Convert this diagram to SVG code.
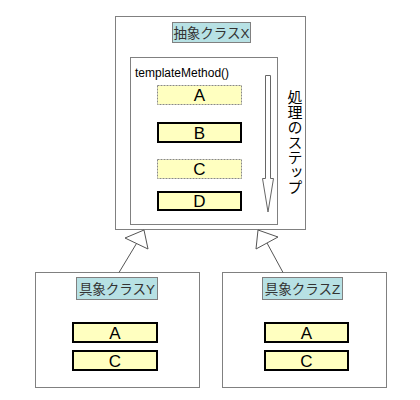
<svg xmlns="http://www.w3.org/2000/svg" width="420" height="400" viewBox="0 0 420 400">
<style>
.frame{fill:#fff;stroke:#808080;stroke-width:1}
.title{fill:#b7e1e4;stroke:#808080;stroke-width:1}
.tt{font-family:"Liberation Sans","Noto Sans CJK JP",sans-serif;font-size:13.5px;fill:#333;text-anchor:middle}
.step{fill:#ffffc0;stroke:#000;stroke-width:2}
.hook{fill:#ffffc0;stroke:#888;stroke-width:1;stroke-dasharray:2,1}
.lt{font-family:"Liberation Sans",Arial,sans-serif;font-size:17px;fill:#000;text-anchor:middle}
.conn{fill:#fff;stroke:#555;stroke-width:1}
</style>
<rect width="420" height="400" fill="#fff"/>
<g id="classX">
<rect class="frame" x="115.5" y="16.5" width="190" height="213"/>
<rect class="title" x="172.5" y="22.5" width="78" height="20"/>
<text class="tt" x="211.5" y="37.5">抽象クラスX</text>
<rect class="frame" x="130.5" y="57.5" width="147" height="167"/>
<text x="135" y="77" font-family="Liberation Sans,Arial,sans-serif" font-size="12" fill="#000">templateMethod()</text>
<g id="stepA"><rect class="hook" x="157.5" y="85.5" width="84" height="19"/><text class="lt" x="199.5" y="101">A</text></g>
<g id="stepB"><rect class="step" x="158" y="123" width="83" height="19"/><text class="lt" x="199.5" y="139">B</text></g>
<g id="stepC"><rect class="hook" x="157.5" y="159.5" width="84" height="19"/><text class="lt" x="199.5" y="175">C</text></g>
<g id="stepD"><rect class="step" x="158" y="192" width="83" height="18"/><text class="lt" x="199.5" y="207">D</text></g>
<path d="M265.5,75.5 H270.5 V178.5 H273.5 L268,212 L262.5,178.5 H265.5 Z" fill="#fff" stroke="#666" stroke-width="1"/>
<text x="295" y="90" font-family="Noto Sans CJK JP,sans-serif" font-size="15" fill="#000" style="writing-mode:vertical-rl" text-anchor="start">処理のステップ</text>
</g>
<g id="classY">
<rect class="frame" x="35.5" y="272.5" width="164" height="115"/>
<rect class="title" x="76.5" y="277.5" width="81" height="22"/>
<text class="tt" x="117" y="294">具象クラスY</text>
<rect class="step" x="73" y="323" width="84" height="19"/><text class="lt" x="115" y="339">A</text>
<rect class="step" x="73" y="351" width="84" height="19"/><text class="lt" x="115" y="367">C</text>
</g>
<g id="classZ">
<rect class="frame" x="222.5" y="272.5" width="164" height="115"/>
<rect class="title" x="262.5" y="277.5" width="80" height="22"/>
<text class="tt" x="302.5" y="294">具象クラスZ</text>
<rect class="step" x="265" y="323" width="83" height="19"/><text class="lt" x="306.5" y="339">A</text>
<rect class="step" x="265" y="351" width="83" height="19"/><text class="lt" x="306.5" y="367">C</text>
</g>
<g id="connectors">
<line class="conn" x1="119" y1="272.5" x2="136.5" y2="243.5"/>
<polygon class="conn" points="144,230 125,238 148,249"/>
<line class="conn" x1="283" y1="272.5" x2="267" y2="243"/>
<polygon class="conn" points="258,230 256,249 278,237"/>
</g>
</svg>
